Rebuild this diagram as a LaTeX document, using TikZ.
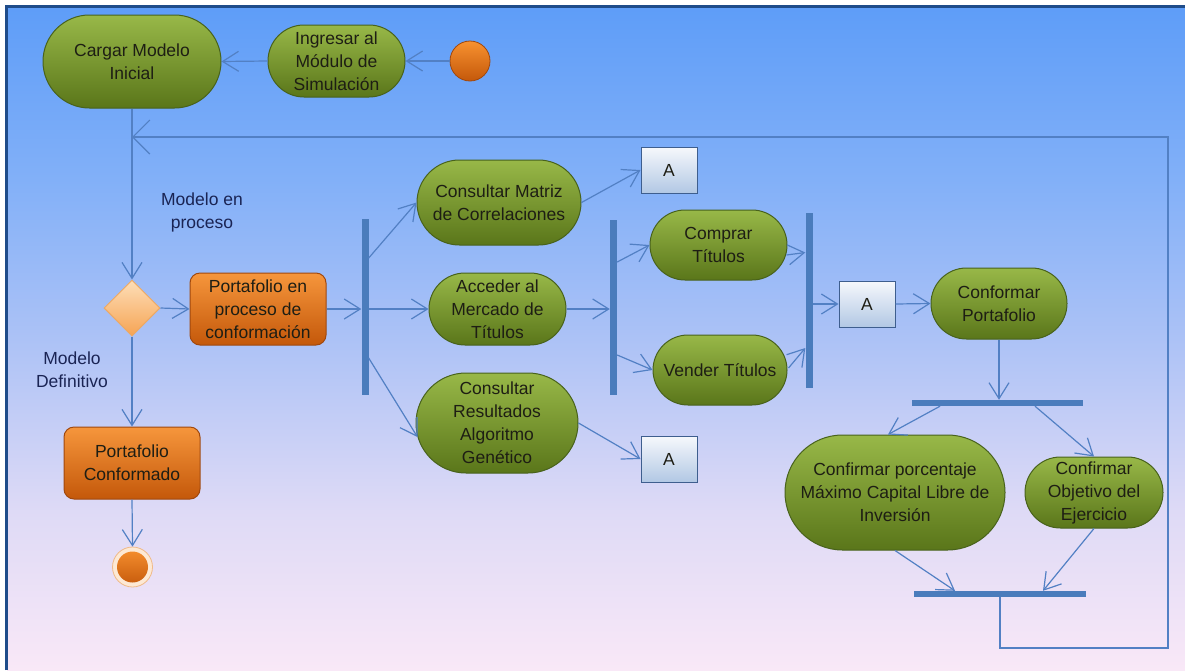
\documentclass[tikz,border=0pt]{standalone}
\usepackage{fontspec}
\setmainfont{Liberation Sans}
\usetikzlibrary{arrows.meta,shapes.misc,shapes.geometric,calc}

% palette
\definecolor{bgA}{RGB}{94,157,248}
\definecolor{bgA2}{RGB}{130,176,248}
\definecolor{bgB}{RGB}{172,194,246}
\definecolor{bgC}{RGB}{222,218,246}
\definecolor{bgD}{RGB}{249,232,247}
\definecolor{frameC}{RGB}{31,76,138}
\definecolor{lineC}{RGB}{82,128,196}
\definecolor{barC}{RGB}{74,124,188}
\definecolor{grnT}{RGB}{152,184,72}
\definecolor{grnD}{RGB}{90,118,26}
\definecolor{grnB}{RGB}{72,98,28}
\definecolor{orgT}{RGB}{246,150,60}
\definecolor{orgD}{RGB}{196,88,10}
\definecolor{orgB}{RGB}{160,72,14}
\definecolor{diaT}{RGB}{253,222,184}
\definecolor{diaD}{RGB}{246,164,84}
\definecolor{diaB}{RGB}{236,168,100}
\definecolor{boxT}{RGB}{246,248,252}
\definecolor{boxD}{RGB}{178,200,228}
\definecolor{boxB}{RGB}{62,94,142}
\definecolor{txtC}{RGB}{30,30,20}
\definecolor{lblC}{RGB}{26,36,84}
\definecolor{ringC}{RGB}{253,233,212}
\definecolor{ringB}{RGB}{240,186,136}

\pgfdeclareverticalshading{bgshade}{100bp}{color(0bp)=(bgD); color(25bp)=(bgD); color(37bp)=(bgC); color(50bp)=(bgB); color(62bp)=(bgA2); color(75bp)=(bgA); color(100bp)=(bgA)}

\newcommand\dgfont{\fontsize{17.5}{23}\selectfont}

\begin{document}
\begin{tikzpicture}[x=1pt,y=-1pt,
  act/.style={rounded rectangle, draw=grnB, line width=1pt, top color=grnT,
    bottom color=grnD, text=txtC, align=center, inner sep=0pt, font=\dgfont},
  objnode/.style={rectangle, rounded corners=10pt, draw=orgB, line width=1pt,
    top color=orgT, bottom color=orgD, text=txtC, align=center, inner sep=0pt,
    minimum width=136pt, minimum height=72pt, font=\dgfont},
  abox/.style={rectangle, draw=boxB, line width=1pt, top color=boxT,
    bottom color=boxD, text=txtC, inner sep=0pt, minimum width=56pt,
    minimum height=46pt, font=\dgfont},
  syncbar/.style={rectangle, fill=barC, draw=none, inner sep=0pt},
  flow/.style={draw=lineC, line width=1.2pt,
    -{Straight Barb[length=16pt,width=20pt]}},
  lbl/.style={text=lblC, align=center, font=\dgfont}
]
\useasboundingbox (0,0) rectangle (1185,670);
% canvas
\fill[white] (0,0) rectangle (1185,670);
\shade[shading=bgshade] (7,7) rectangle (1185,670);
\draw[frameC, line width=2.5pt] (6.25,670) -- (6.25,6.25) -- (1185,6.25);

% start / end
\node[circle, minimum size=40pt, inner sep=0pt, draw=orgB, line width=0.8pt,
  top color=orgT!80!orange, bottom color=orgD] (init) at (470,61) {};
\node[circle, minimum size=40pt, inner sep=0pt, draw=ringB, line width=0.8pt,
  fill=ringC, path picture={\shade[top color=orgT!80!orange, bottom color=orgD]
  (path picture bounding box.center) circle (15.5pt);}] (fin) at (132.5,567) {};

% actions
\node[act, minimum width=178pt, minimum height=93pt] (cargar) at (132,61.5) {Cargar Modelo\\Inicial};
\node[act, minimum width=137pt, minimum height=72pt] (ing) at (336.5,61) {Ingresar al\\Módulo de\\Simulación};
\node[act, minimum width=164pt, minimum height=85pt] (cm) at (499,202.5) {Consultar Matriz\\de Correlaciones};
\node[act, minimum width=137pt, minimum height=72pt] (acc) at (497.5,309) {Acceder al\\Mercado de\\Títulos};
\node[act, minimum width=162pt, minimum height=100pt] (cr) at (497,423) {Consultar\\Resultados\\Algoritmo\\Genético};
\node[act, minimum width=137pt, minimum height=70pt] (comp) at (718.5,245) {Comprar\\Títulos};
\node[act, minimum width=134pt, minimum height=70pt] (vend) at (720,370) {Vender Títulos};
\node[act, minimum width=136pt, minimum height=71pt] (conf) at (999,303.5) {Conformar\\Portafolio};
\node[act, minimum width=220pt, minimum height=115pt] (cp) at (895,492.5) {Confirmar porcentaje\\Máximo Capital Libre de\\Inversión};
\node[act, minimum width=138pt, minimum height=71pt] (co) at (1094,492.5) {Confirmar\\Objetivo del\\Ejercicio};

% object states
\node[objnode] (pen) at (258,309) {Portafolio en\\proceso de\\conformación};
\node[objnode] (pc) at (132,463) {Portafolio\\Conformado};

% decision
\node[diamond, aspect=1, minimum width=56pt, minimum height=56pt, inner sep=0pt,
  draw=diaB, line width=1pt, top color=diaT, bottom color=diaD] (dia) at (132,308) {};

% connectors "A"
\node[abox] (atop) at (669,170) {A};
\node[abox] (abot) at (669,459) {A};
\node[abox] (amid) at (867,304) {A};

% fork / join bars
\node[syncbar, minimum width=7pt, minimum height=176pt] (bar1) at (365,307) {};
\node[syncbar, minimum width=7pt, minimum height=175pt] (bar2) at (613.5,307.5) {};
\node[syncbar, minimum width=7pt, minimum height=175pt] (bar3) at (809,300.5) {};
\node[syncbar, minimum width=171pt, minimum height=6pt] (bar4) at (997.5,403) {};
\node[syncbar, minimum width=172pt, minimum height=6pt] (bar5) at (1000,594) {};

% guard labels
\node[lbl] (lproc) at (202,212) {Modelo en\\proceso};
\node[lbl] (ldef) at (72,370) {Modelo\\Definitivo};

% flows
\draw[flow] (init.west) -- (ing.east);
\draw[flow] (ing.west) -- (cargar.east);
\draw[flow] (cargar.south) -- (dia.north);
\draw[flow] (dia.east) -- (pen.west);
\draw[flow] (dia.south) -- (pc.north);
\draw[flow] (pc.south) -- (fin.north);
\draw[flow] (pen.east) -- (pen.east -| bar1.west);
\draw[flow] ([yshift=49pt]bar1.east) -- (cm.west);
\draw[flow] (bar1.east |- acc.west) -- (acc.west);
\draw[flow] ([yshift=-51pt]bar1.east) -- ([xshift=2pt,yshift=-14pt]cr.west);
\draw[flow] (cm.east) -- (atop.west);
\draw[flow] (cr.east) -- (abot.west);
\draw[flow] (acc.east) -- (acc.east -| bar2.west);
\draw[flow] ([yshift=45.5pt]bar2.east) -- (comp.west);
\draw[flow] ([yshift=-47.5pt]bar2.east) -- (vend.west);
\draw[flow] ([xshift=-1pt,yshift=-10pt]comp.east) -- ([yshift=48pt]bar3.west);
\draw[flow] ([xshift=1pt,yshift=2pt]vend.east) -- ([yshift=-47.5pt]bar3.west);
\draw[flow] (bar3.east |- amid.west) -- (amid.west);
\draw[flow] (amid.east) -- (conf.west);
\draw[flow] (conf.south) -- (conf.south |- bar4.north);
\draw[flow] ([xshift=-57.5pt]bar4.south) -- ([xshift=-7pt]cp.north);
\draw[flow] ([xshift=37.5pt]bar4.south) -- (co.north);
\draw[flow] (cp.south) -- ([xshift=-45pt]bar5.north);
\draw[flow] (co.south) -- ([xshift=43pt]bar5.north);

% loop back to the start of the cycle
\coordinate (loopbr) at (1168,648);
\coordinate (looptr) at (1168,137);
\coordinate (loopin) at (cargar.south |- looptr);
\draw[flow, -{Straight Barb[length=17pt,width=34pt]}]
  (bar5.south) |- (loopbr) -- (looptr) -- (loopin);
\end{tikzpicture}
\end{document}
